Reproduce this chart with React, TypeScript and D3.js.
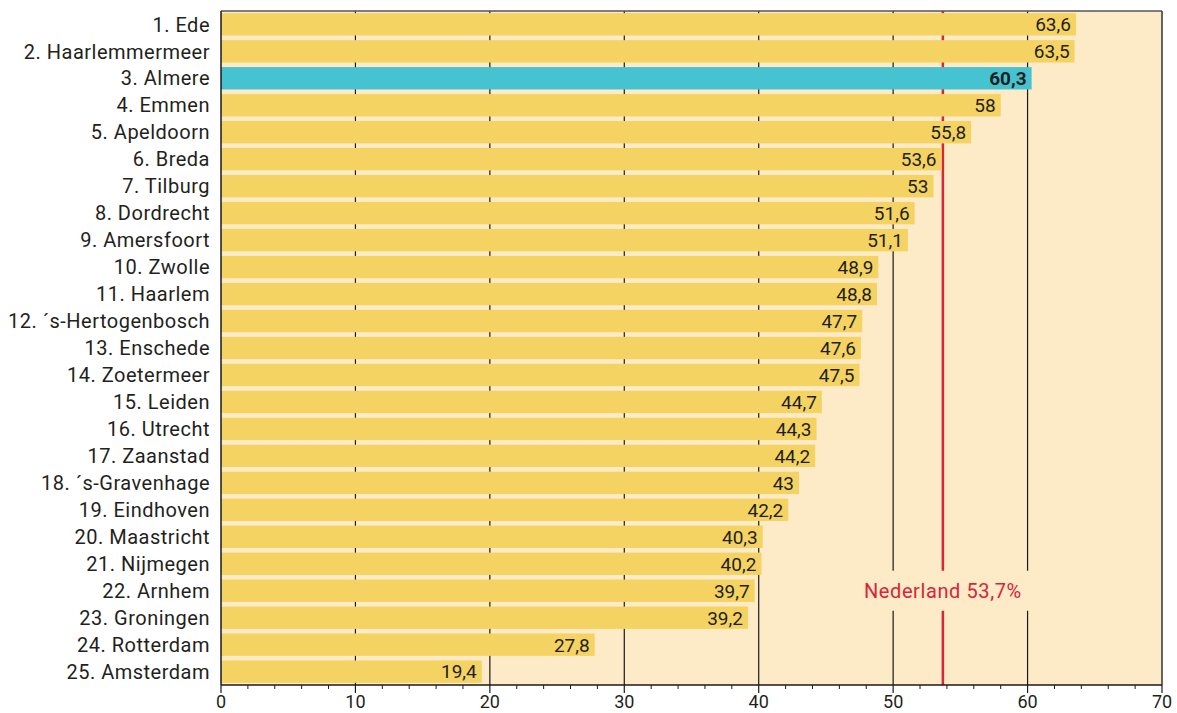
import React from 'react';
import * as d3 from 'd3';

const cities = [
  '1. Ede', '2. Haarlemmermeer', '3. Almere', '4. Emmen', '5. Apeldoorn', '6. Breda',
  '7. Tilburg', '8. Dordrecht', '9. Amersfoort', '10. Zwolle', '11. Haarlem',
  '12. ´s-Hertogenbosch', '13. Enschede', '14. Zoetermeer', '15. Leiden', '16. Utrecht',
  '17. Zaanstad', '18. ´s-Gravenhage', '19. Eindhoven', '20. Maastricht', '21. Nijmegen',
  '22. Arnhem', '23. Groningen', '24. Rotterdam', '25. Amsterdam',
];
const values = [
  63.6, 63.5, 60.3, 58, 55.8, 53.6, 53, 51.6, 51.1, 48.9, 48.8, 47.7, 47.6, 47.5,
  44.7, 44.3, 44.2, 43, 42.2, 40.3, 40.2, 39.7, 39.2, 27.8, 19.4,
];
const highlight = '3. Almere';
const nationalValue = 53.7;
const nationalLabel = 'Nederland 53,7%';
const majorTicks = [0, 10, 20, 30, 40, 50, 60, 70];

const W = 1177;
const H = 713;
const margin = { left: 221, right: 15, top: 11, bottom: 28 };
const font = 'Roboto, sans-serif';
const textColor = '#231f20';

const App: React.FC = () => {
  const x = d3.scaleLinear().domain([0, 70]).range([margin.left, W - margin.right]);
  const y = d3.scaleBand<string>()
    .domain(cities)
    .range([margin.top, H - margin.bottom])
    .paddingInner(0.17)
    .paddingOuter(0.08);
  const minorTicks = d3.range(0, 70.01, 2).filter(t => t % 10 !== 0);
  const fmt = (v: number) => String(v).replace('.', ',');
  const x0 = x(0);
  const x1 = x(70);
  const yTop = margin.top;
  const yBot = H - margin.bottom;
  const nx = x(nationalValue);
  const labelY = (y('22. Arnhem') ?? 0) + y.bandwidth() / 2;

  return (
    <svg width={W} height={H} style={{ position: 'absolute', left: 0, top: 0 }}>
      <rect x={x0} y={yTop} width={x1 - x0} height={yBot - yTop} fill="#fcebc6" />
      {majorTicks.filter(t => t > 0 && t < 70).map(t => (
        <line key={t} x1={x(t)} x2={x(t)} y1={yTop} y2={yBot} stroke="#1a1a1a" strokeWidth={1.2} />
      ))}
      <line x1={nx} x2={nx} y1={yTop} y2={yBot} stroke="#d9243a" strokeWidth={2.5} />
      <rect x={nx - 92} y={labelY - 20} width={184} height={40} fill="#fcebc6" />
      <text x={nx} y={labelY} dy="0.36em" textAnchor="middle" fill="#d9243a"
        fontFamily={font} fontSize={20} letterSpacing={0.6}>{nationalLabel}</text>
      {cities.map((c, i) => {
        const yy = y(c) ?? 0;
        const hl = c === highlight;
        return (
          <g key={c}>
            <rect x={x0} y={yy} width={x(values[i]) - x0} height={y.bandwidth()}
              fill={hl ? '#45c3d1' : '#f5d362'} />
            <text x={x(values[i]) - 5} y={yy + y.bandwidth() / 2} dy="0.36em" textAnchor="end"
              fill={textColor} fontFamily={font} fontSize={19} fontWeight={hl ? 700 : 400}>
              {fmt(values[i])}
            </text>
            <text x={x0 - 11} y={yy + y.bandwidth() / 2} dy="0.36em" textAnchor="end"
              fill={textColor} fontFamily={font} fontSize={20} letterSpacing={0.5}>{c}</text>
          </g>
        );
      })}
      <line x1={x0} x2={x1} y1={yTop} y2={yTop} stroke="#555" strokeWidth={1.5} />
      <line x1={x1} x2={x1} y1={yTop} y2={yBot} stroke="#333" strokeWidth={1.5} />
      <line x1={x0} x2={x0} y1={yTop} y2={yBot} stroke="#1a1a1a" strokeWidth={1.5} />
      <line x1={x0} x2={x1} y1={yBot} y2={yBot} stroke="#1a1a1a" strokeWidth={1.5} />
      {minorTicks.map(t => (
        <line key={t} x1={x(t)} x2={x(t)} y1={yBot} y2={yBot + 4} stroke="#1a1a1a" strokeWidth={1} />
      ))}
      {majorTicks.map(t => (
        <g key={t}>
          <line x1={x(t)} x2={x(t)} y1={yBot} y2={yBot + 8} stroke="#1a1a1a" strokeWidth={1.2} />
          <text x={x(t)} y={yBot + 23} textAnchor="middle" fill={textColor}
            fontFamily={font} fontSize={18}>{t}</text>
        </g>
      ))}
    </svg>
  );
};

export default App;
